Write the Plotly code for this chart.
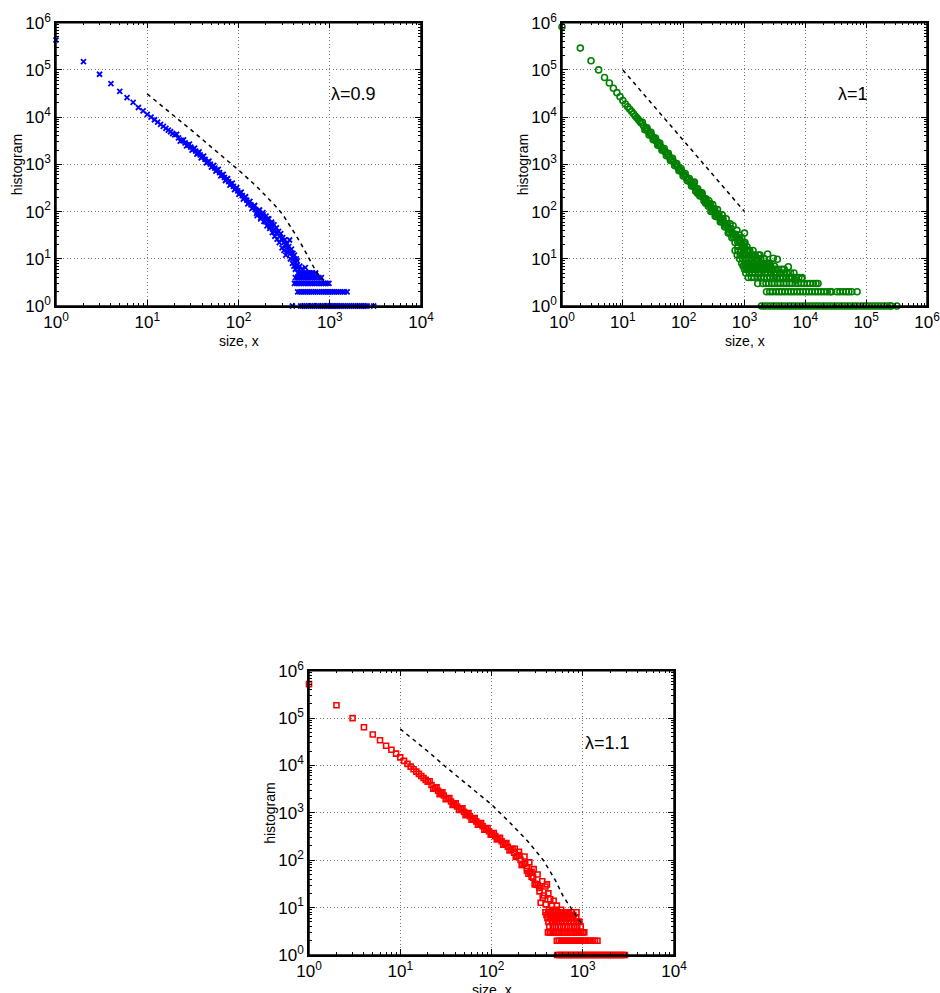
import plotly.graph_objects as go

FONT = "Liberation Sans, Arial, Helvetica, sans-serif"

# ---------------- Panel 1 : lambda = 0.9 (blue x) ----------------
p1_x = [1, 2, 3, 4, 5, 6, 7, 8, 9, 10, 11, 12, 13, 14, 15, 16, 17, 18, 19, 20,
        22, 24, 26, 28, 30, 32, 34, 36, 38, 40, 43, 46, 49, 52, 55, 58,
        62, 66, 70, 74, 78, 83, 88, 93, 98,
        104, 110, 116, 123, 130, 137, 145, 153, 162, 171, 181, 191, 202, 214, 226,
        239, 252, 266, 281, 297, 314, 331, 350, 370, 390, 412, 435, 460, 485]
p1_y = [430000, 150000, 81000, 51000, 35000, 26000, 20500, 16000, 13500, 11500,
        10000, 8800, 7850, 7050, 6400, 5800, 5300, 4900, 4500, 4200,
        3650, 3200, 2850, 2570, 2320, 2100, 1900, 1740, 1590, 1440,
        1270, 1120, 1010, 910, 830, 755, 670, 590, 530, 480, 430, 385, 340, 305, 275,
        245, 218, 195, 174, 155, 139, 123, 110, 98, 89, 80, 72, 66, 59, 52,
        46, 40, 35, 30, 26, 22, 19, 16, 13, 11, 9, 7.3, 5.9, 4.8]
p1_mx = [21, 23, 25, 27, 29, 31, 33, 35, 37, 39, 41.5, 44.5, 47.5, 50.5, 53.5, 56.5,
         60, 64, 68, 72, 76, 80.5, 85.5, 90.5, 95.5, 101, 107, 113, 119.5, 126.5,
         133.5, 141, 149, 157.5, 166.5, 176, 186, 196.5, 208, 220, 232.5, 245.5]
p1_my = [4300, 3100, 3300, 2450, 2680, 2000, 2200, 1650, 1830, 1370, 1490, 1080,
         1170, 870, 955, 715, 785, 570, 615, 455, 500, 365, 400, 290, 320, 232,
         258, 184, 206, 146, 165, 117, 130, 92, 105, 75, 85, 61, 70, 49, 55, 38]
p1_sx = [150, 160, 170, 175, 185, 190, 200, 205, 215, 220, 230, 235, 245, 250, 260,
         265, 275, 280, 290, 300, 305, 315, 320, 330, 340, 345, 355, 363, 370, 380,
         390, 395, 405, 410, 420, 430, 440, 455, 470, 500, 520, 540, 560, 600, 640]
p1_sy = [135, 82, 108, 70, 95, 62, 80, 50, 70, 44, 60, 36, 52, 30, 45,
         26, 38, 22, 34, 17, 28, 15, 25, 12, 21, 14, 18, 25, 10, 16,
         8, 13, 7, 12, 6, 10, 9, 5, 7, 6, 4.2, 6.5, 4.5, 5, 4.2]
p1_b5_x = [450, 480, 510, 540, 575, 610, 650, 700]
p1_b4_x = [420, 445, 470, 500, 530, 560, 595, 630, 670, 715, 760, 810]
p1_b3_x = [410, 430, 450, 470, 490, 515, 540, 565, 590, 620, 650, 680, 710, 745,
           780, 815, 855, 895, 935, 980]
p1_b2_x = [445, 470, 495, 520, 545, 575, 605, 635, 665, 700, 735, 770, 810, 850,
           890, 935, 980, 1030, 1080, 1130, 1190, 1250, 1310, 1380, 1450, 1550]
p1_b1_x = [390, 480, 505, 530, 555, 585, 615, 645, 680, 715, 750, 790, 830, 870,
           915, 960, 1010, 1060, 1110, 1170, 1230, 1290, 1350, 1420, 1490, 1570,
           1650, 1730, 1820, 1910, 2010, 2110, 2210, 2330, 2450, 2570, 3030]
p1_fit_x = [10, 20, 31.6, 50, 79, 100, 158, 200, 251, 300, 355, 420, 500, 590, 700, 800, 925]
p1_fit_y = [31000, 10500, 5000, 2350, 1120, 760, 340, 215, 135, 91, 56, 33, 18.6, 10, 5.6, 4, 2.8]

# ---------------- Panel 2 : lambda = 1 (green circles) ----------------
p2_x = [1, 2, 3, 4, 5, 6, 7, 8, 9, 10, 11, 12, 13, 14, 15, 16, 17, 18, 19, 20,
        22, 24, 26, 28, 30, 33, 36, 39, 42, 46, 50, 54, 58, 63, 68, 74, 80, 87, 94,
        102, 110, 119, 129, 140, 151, 164, 177, 192, 208,
        225, 244, 264, 286, 310, 336, 364, 394, 427, 462,
        500, 542, 587, 636, 689, 746, 808, 875, 948, 1027]
p2_y = [820000, 290000, 156000, 100000, 69000, 53000, 41000, 33000, 27000, 22500,
        19000, 16600, 14700, 13100, 11750, 10600, 9700, 8870, 8150, 7530,
        6500, 5680, 5010, 4470, 4020, 3460, 3030, 2680, 2390, 2070, 1820, 1620, 1450,
        1270, 1130, 990, 880, 770, 685,
        600, 537, 474, 419, 369, 328, 288, 256, 226, 200,
        177, 156, 138, 122, 108, 95, 84, 74, 66, 58,
        51, 45, 40, 35, 31, 27.5, 24.4, 21.5, 19, 16.8]
p2_mx = [21, 23, 25, 27, 29, 31.5, 34.5, 37.5, 40.5, 44, 48, 52, 56, 60.5, 65.5, 71,
         77, 83.5, 90.5, 98, 106, 114.5, 124, 134.5, 145.5, 157.5, 170.5, 184.5, 200,
         216, 234, 254, 275, 298, 323, 350, 379, 410, 444, 481, 521, 564, 611, 662,
         717, 777, 841, 911, 987]
p2_my = [7800, 5400, 5950, 4200, 4750, 3320, 3620, 2540, 2830, 1980, 2170, 1530,
         1710, 1210, 1340, 940, 1045, 730, 815, 570, 640, 450, 500, 350, 390, 270,
         305, 213, 240, 167, 186, 130, 146, 102, 114, 78, 89, 62, 70, 47, 55, 37,
         43, 29, 33, 22.5, 26, 17.5, 20.5]
p2_sx = [150, 170, 200, 230, 260, 280, 300, 330, 360, 400, 430, 470, 500, 540, 580,
         620, 650, 700, 750, 780, 820, 860, 900, 950, 1000, 1020, 1050, 1100, 1150, 1200,
         1300, 1400, 1500, 1600, 1700, 1800, 1900, 2000, 2100, 2200, 2400, 2460, 2600,
         2800, 2970, 3200, 3470, 3800, 4200, 4500, 5250, 5800, 6500, 7000, 8700]
p2_sy = [420, 240, 250, 150, 170, 100, 140, 80, 110, 60, 85, 48, 70, 35, 55,
         28, 50, 22, 40, 18, 32, 14, 28, 12, 35, 22, 10, 18, 8, 14,
         7, 11, 6, 9, 5, 12, 4, 7, 10, 5, 12.6, 8, 4,
         6, 10.3, 4.5, 9.8, 5, 4, 6, 6.8, 4, 5, 3.5, 3.8]
p2_r15_x = [700, 780, 870, 970, 1090, 1220, 1380]
p2_r12_x = [760, 850, 950, 1070, 1200, 1350, 1500, 1700]
p2_r10_x = [830, 930, 1040, 1170, 1310, 1470, 1650, 1850, 2100]
p2_r8_x = [900, 1010, 1130, 1270, 1430, 1600, 1800, 2050, 2300, 2600]
p2_r7_x = [950, 1070, 1200, 1350, 1520, 1700, 1900, 2150, 2400, 2700, 3100]
p2_r6_x = [1000, 1120, 1260, 1420, 1600, 1800, 2000, 2250, 2550, 2850, 3200, 3600, 4100]
p2_r5_x = [1050, 1200, 1350, 1500, 1700, 1900, 2150, 2400, 2700, 3050, 3450, 3900,
           4400, 5000, 5700]
p2_r4_x = [1150, 1300, 1450, 1650, 1850, 2100, 2350, 2650, 3000, 3400, 3800, 4300,
           4800, 5400, 6100, 6900, 7800, 8800]
p2_b3_x = [1650, 2000, 2250, 2500, 2800, 3100, 3500, 3900, 4400, 4900, 5500, 6100,
           6900, 7700, 8600, 9600, 10800, 12000, 13500, 15000, 16200]
p2_b2_x = [2300, 2600, 2900, 3300, 3700, 4100, 4600, 5200, 5800, 6500, 7300, 8200,
           9200, 10300, 11500, 12900, 14500, 16200, 18200, 20400, 22900, 25600, 27000,
           33000, 37000, 42000, 47000, 52000, 58000, 71000]
p2_b1_x = [1900, 2130, 2390, 2670, 3000, 3350, 3750, 4200, 4700, 5300, 5900, 6600,
           7400, 8300, 9300, 10400, 11700, 13100, 14700, 16400, 18400, 20600, 23000,
           25800, 28900, 32400, 36300, 40600, 45500, 51000, 57000, 64000, 71500, 80000,
           90000, 100000, 112000, 126000, 141000, 158000, 177000, 198000, 222000,
           248000, 260000, 320000]
p2_fit_x = [10, 1000]
p2_fit_y = [100000, 100]

# ---------------- Panel 3 : lambda = 1.1 (red squares) ----------------
p3_x = [1, 2, 3, 4, 5, 6, 7, 8, 9, 10, 11, 12, 13, 14, 15, 16, 17, 18, 19, 20,
        22, 24, 26, 28, 30, 33, 36, 39, 42, 46, 50, 54, 58, 63, 68, 74, 80, 87, 94,
        102, 110, 119, 129, 140, 151, 164, 177, 192, 208,
        225, 244, 264, 286, 310, 336, 364, 394, 427, 462, 500]
p3_y = [520000, 186000, 100000, 64000, 45000, 34000, 26000, 21500, 17800, 14800,
        12500, 10800, 9460, 8350, 7430, 6650, 6010, 5450, 4970, 4550,
        3880, 3340, 2920, 2570, 2330, 2000, 1740, 1530, 1365, 1190, 1050, 940, 845,
        745, 660, 585, 520, 457, 408,
        360, 322, 286, 251, 221, 193, 167, 145, 123, 102,
        84, 68, 55, 43, 31, 22, 16, 11.7, 8.9, 6.9, 5.6]
p3_mx = [21, 23, 25, 27, 29, 31.5, 34.5, 37.5, 40.5, 44, 48, 52, 56, 60.5, 65.5, 71,
         77, 83.5, 90.5, 98, 106, 114.5, 124, 134.5, 145.5, 157.5, 170.5, 184.5, 200,
         216, 234, 254, 275, 298, 323]
p3_my = [4650, 3250, 3450, 2480, 2700, 1950, 2060, 1470, 1600, 1150, 1240, 895,
         985, 715, 775, 560, 610, 440, 478, 345, 376, 273, 297, 212, 230, 160,
         175, 118, 128, 80, 88, 52, 57, 31, 30]
p3_sx = [180, 200, 215, 230, 245, 260, 275, 290, 300, 320, 335, 346, 360, 375, 390,
         405, 420, 440, 460, 480, 500, 520, 550, 580, 620, 660, 700, 740, 780, 855, 900]
p3_sy = [175, 150, 80, 120, 60, 90, 45, 65, 32, 50, 26, 12.7, 36, 18, 28,
         31, 20, 15, 11, 14, 9, 11, 7, 9, 7, 8, 6, 7, 6, 8, 5]
p3_r8_x = [390, 420, 455, 495, 540, 590, 640, 700, 760]
p3_r7_x = [400, 435, 470, 510, 555, 605, 660, 720, 790]
p3_r6_x = [410, 445, 485, 530, 580, 635, 700, 770, 850]
p3_r5_x = [420, 460, 500, 545, 595, 650, 710, 780, 850, 920]
p3_r4_x = [430, 470, 510, 560, 610, 670, 730, 800, 870, 950]
p3_b3_x = [415, 435, 455, 480, 505, 530, 555, 585, 615, 645, 680, 715, 750, 790,
           830, 870, 915, 960, 1000, 1040]
p3_b2_x = [520, 545, 575, 605, 635, 670, 705, 740, 780, 820, 860, 905, 950, 1000,
           1050, 1100, 1160, 1220, 1290, 1360, 1450]
p3_b1_x = [525, 550, 580, 610, 640, 675, 710, 745, 785, 825, 870, 915, 960, 1010,
           1060, 1120, 1180, 1240, 1300, 1370, 1440, 1520, 1600, 1680, 1770, 1860,
           1960, 2060, 2170, 2280, 2400, 2530, 2650, 2780, 2900]
p3_fit_x = [10, 20, 31.6, 50, 100, 158, 251, 370, 500, 614, 760, 930, 1000]
p3_fit_y = [59000, 20000, 9300, 4500, 1500, 630, 250, 100, 38, 17, 9, 5, 4.2]

labels = ["λ=0.9", "λ=1", "λ=1.1"]
xtitles = ["size, x", "size, x", "size. x"]
ytitle = "histogram"


def gather(main, extra, scatter, rows):
    xs = list(main[0]) + list(extra[0]) + list(scatter[0])
    ys = list(main[1]) + list(extra[1]) + list(scatter[1])
    for level, rx in rows:
        xs += list(rx)
        ys += [level] * len(rx)
    return xs, ys


d1 = gather((p1_x, p1_y), (p1_mx, p1_my), (p1_sx, p1_sy),
            [(5, p1_b5_x), (4, p1_b4_x), (3, p1_b3_x), (2, p1_b2_x), (1, p1_b1_x)])
d2 = gather((p2_x, p2_y), (p2_mx, p2_my), (p2_sx, p2_sy),
            [(15, p2_r15_x), (12, p2_r12_x), (10, p2_r10_x), (8, p2_r8_x), (7, p2_r7_x),
             (6, p2_r6_x), (5, p2_r5_x), (4, p2_r4_x), (3, p2_b3_x), (2, p2_b2_x),
             (1, p2_b1_x)])
d3 = gather((p3_x, p3_y), (p3_mx, p3_my), (p3_sx, p3_sy),
            [(8, p3_r8_x), (7, p3_r7_x), (6, p3_r6_x), (5, p3_r5_x), (4, p3_r4_x),
             (3, p3_b3_x), (2, p3_b2_x), (1, p3_b1_x)])

DASH = "4px,4px"
fig = go.Figure()

fig.add_trace(go.Scatter(x=d1[0], y=d1[1], mode="markers", xaxis="x", yaxis="y",
                         cliponaxis=False,
                         marker=dict(symbol="x-thin", size=5, color="#0000ff",
                                     line=dict(color="#0000ff", width=1.8))))
fig.add_trace(go.Scatter(x=p1_fit_x, y=p1_fit_y, mode="lines", xaxis="x", yaxis="y",
                         line=dict(color="black", width=1.5, dash=DASH)))

fig.add_trace(go.Scatter(x=d2[0], y=d2[1], mode="markers", xaxis="x2", yaxis="y2",
                         cliponaxis=False,
                         marker=dict(symbol="circle-open", size=6, color="#008000",
                                     line=dict(color="#008000", width=1.6))))
fig.add_trace(go.Scatter(x=p2_fit_x, y=p2_fit_y, mode="lines", xaxis="x2", yaxis="y2",
                         line=dict(color="black", width=1.5, dash=DASH)))

fig.add_trace(go.Scatter(x=d3[0], y=d3[1], mode="markers", xaxis="x3", yaxis="y3",
                         cliponaxis=False,
                         marker=dict(symbol="square-open", size=5, color="#ff0000",
                                     line=dict(color="#ff0000", width=1.6))))
fig.add_trace(go.Scatter(x=p3_fit_x, y=p3_fit_y, mode="lines", xaxis="x3", yaxis="y3",
                         line=dict(color="black", width=1.5, dash=DASH)))


def log_axis(domain, decades, anchor):
    major = [10 ** k for k in range(decades + 1)]
    text = ["10<sup>%d</sup>" % k for k in range(decades + 1)]
    minor = [m * 10 ** k for k in range(decades) for m in range(2, 10)]
    return dict(type="log", range=[0, decades], domain=domain, anchor=anchor,
                automargin=False, ticklabeloverflow="allow",
                showline=True, linecolor="black", linewidth=1.5, mirror="ticks",
                ticks="inside", ticklen=6, tickwidth=1, tickcolor="black",
                tickvals=major, ticktext=text,
                tickfont=dict(family=FONT, size=17, color="black"),
                showgrid=True, gridcolor="#777777", griddash="1px,2.5px", gridwidth=1,
                zeroline=False,
                minor=dict(ticks="inside", ticklen=3, tickwidth=1, tickcolor="black",
                           tickvals=minor, showgrid=False))


W, H = 940, 993


def xdom(a, b):
    return [a / W, b / W]


def ydom(top_px, bottom_px):
    return [1 - bottom_px / H, 1 - top_px / H]


top = ydom(22.7, 306)
bot = ydom(670.7, 955)
px1 = xdom(56, 421)
px2 = xdom(562, 927)
px3 = xdom(309, 674)

annotations = []
for lab, xr, yr, lx in [(labels[0], "x", "y", 2.99), (labels[1], "x2", "y2", 4.5),
                        (labels[2], "x3", "y3", 3.0)]:
    annotations.append(dict(text=lab, x=lx, y=4.48, xref=xr, yref=yr, showarrow=False,
                            xanchor="left", yanchor="middle",
                            font=dict(family=FONT, size=18, color="black")))
for t, xr, yr in [(xtitles[0], "x domain", "y domain"),
                  (xtitles[1], "x2 domain", "y2 domain"),
                  (xtitles[2], "x3 domain", "y3 domain")]:
    annotations.append(dict(text=t, x=0.5, y=-0.088, xref=xr, yref=yr,
                            showarrow=False, xanchor="center", yanchor="top",
                            font=dict(family=FONT, size=14, color="black")))
for xr, yr in [("x domain", "y domain"), ("x2 domain", "y2 domain"),
               ("x3 domain", "y3 domain")]:
    annotations.append(dict(text=ytitle, x=-0.107, y=0.5, xref=xr, yref=yr,
                            showarrow=False, xanchor="center", yanchor="middle",
                            textangle=-90,
                            font=dict(family=FONT, size=14, color="black")))

# box frame around each panel
shapes = [dict(type="rect", xref=xr, yref=yr, x0=0, x1=1, y0=0, y1=1,
               line=dict(color="black", width=1.5), fillcolor="rgba(0,0,0,0)", layer="above")
          for xr, yr in [("x domain", "y domain"), ("x2 domain", "y2 domain"),
                         ("x3 domain", "y3 domain")]]

fig.update_layout(
    width=W, height=H,
    margin=dict(l=0, r=0, t=0, b=0, autoexpand=False),
    paper_bgcolor="white", plot_bgcolor="white",
    showlegend=False,
    xaxis=log_axis(px1, 4, "y"),
    yaxis=log_axis(top, 6, "x"),
    xaxis2=log_axis(px2, 6, "y2"),
    yaxis2=log_axis(top, 6, "x2"),
    xaxis3=log_axis(px3, 4, "y3"),
    yaxis3=log_axis(bot, 6, "x3"),
    annotations=annotations,
    shapes=shapes,
)

# remove the page's default 8px body margin so the figure fills the window exactly
fig.write_html("out.html",
               config={"displayModeBar": False},
               post_script="document.documentElement.style.overflow='hidden';"
                           "document.body.style.margin='0px';"
                           "document.body.style.overflow='hidden';")
